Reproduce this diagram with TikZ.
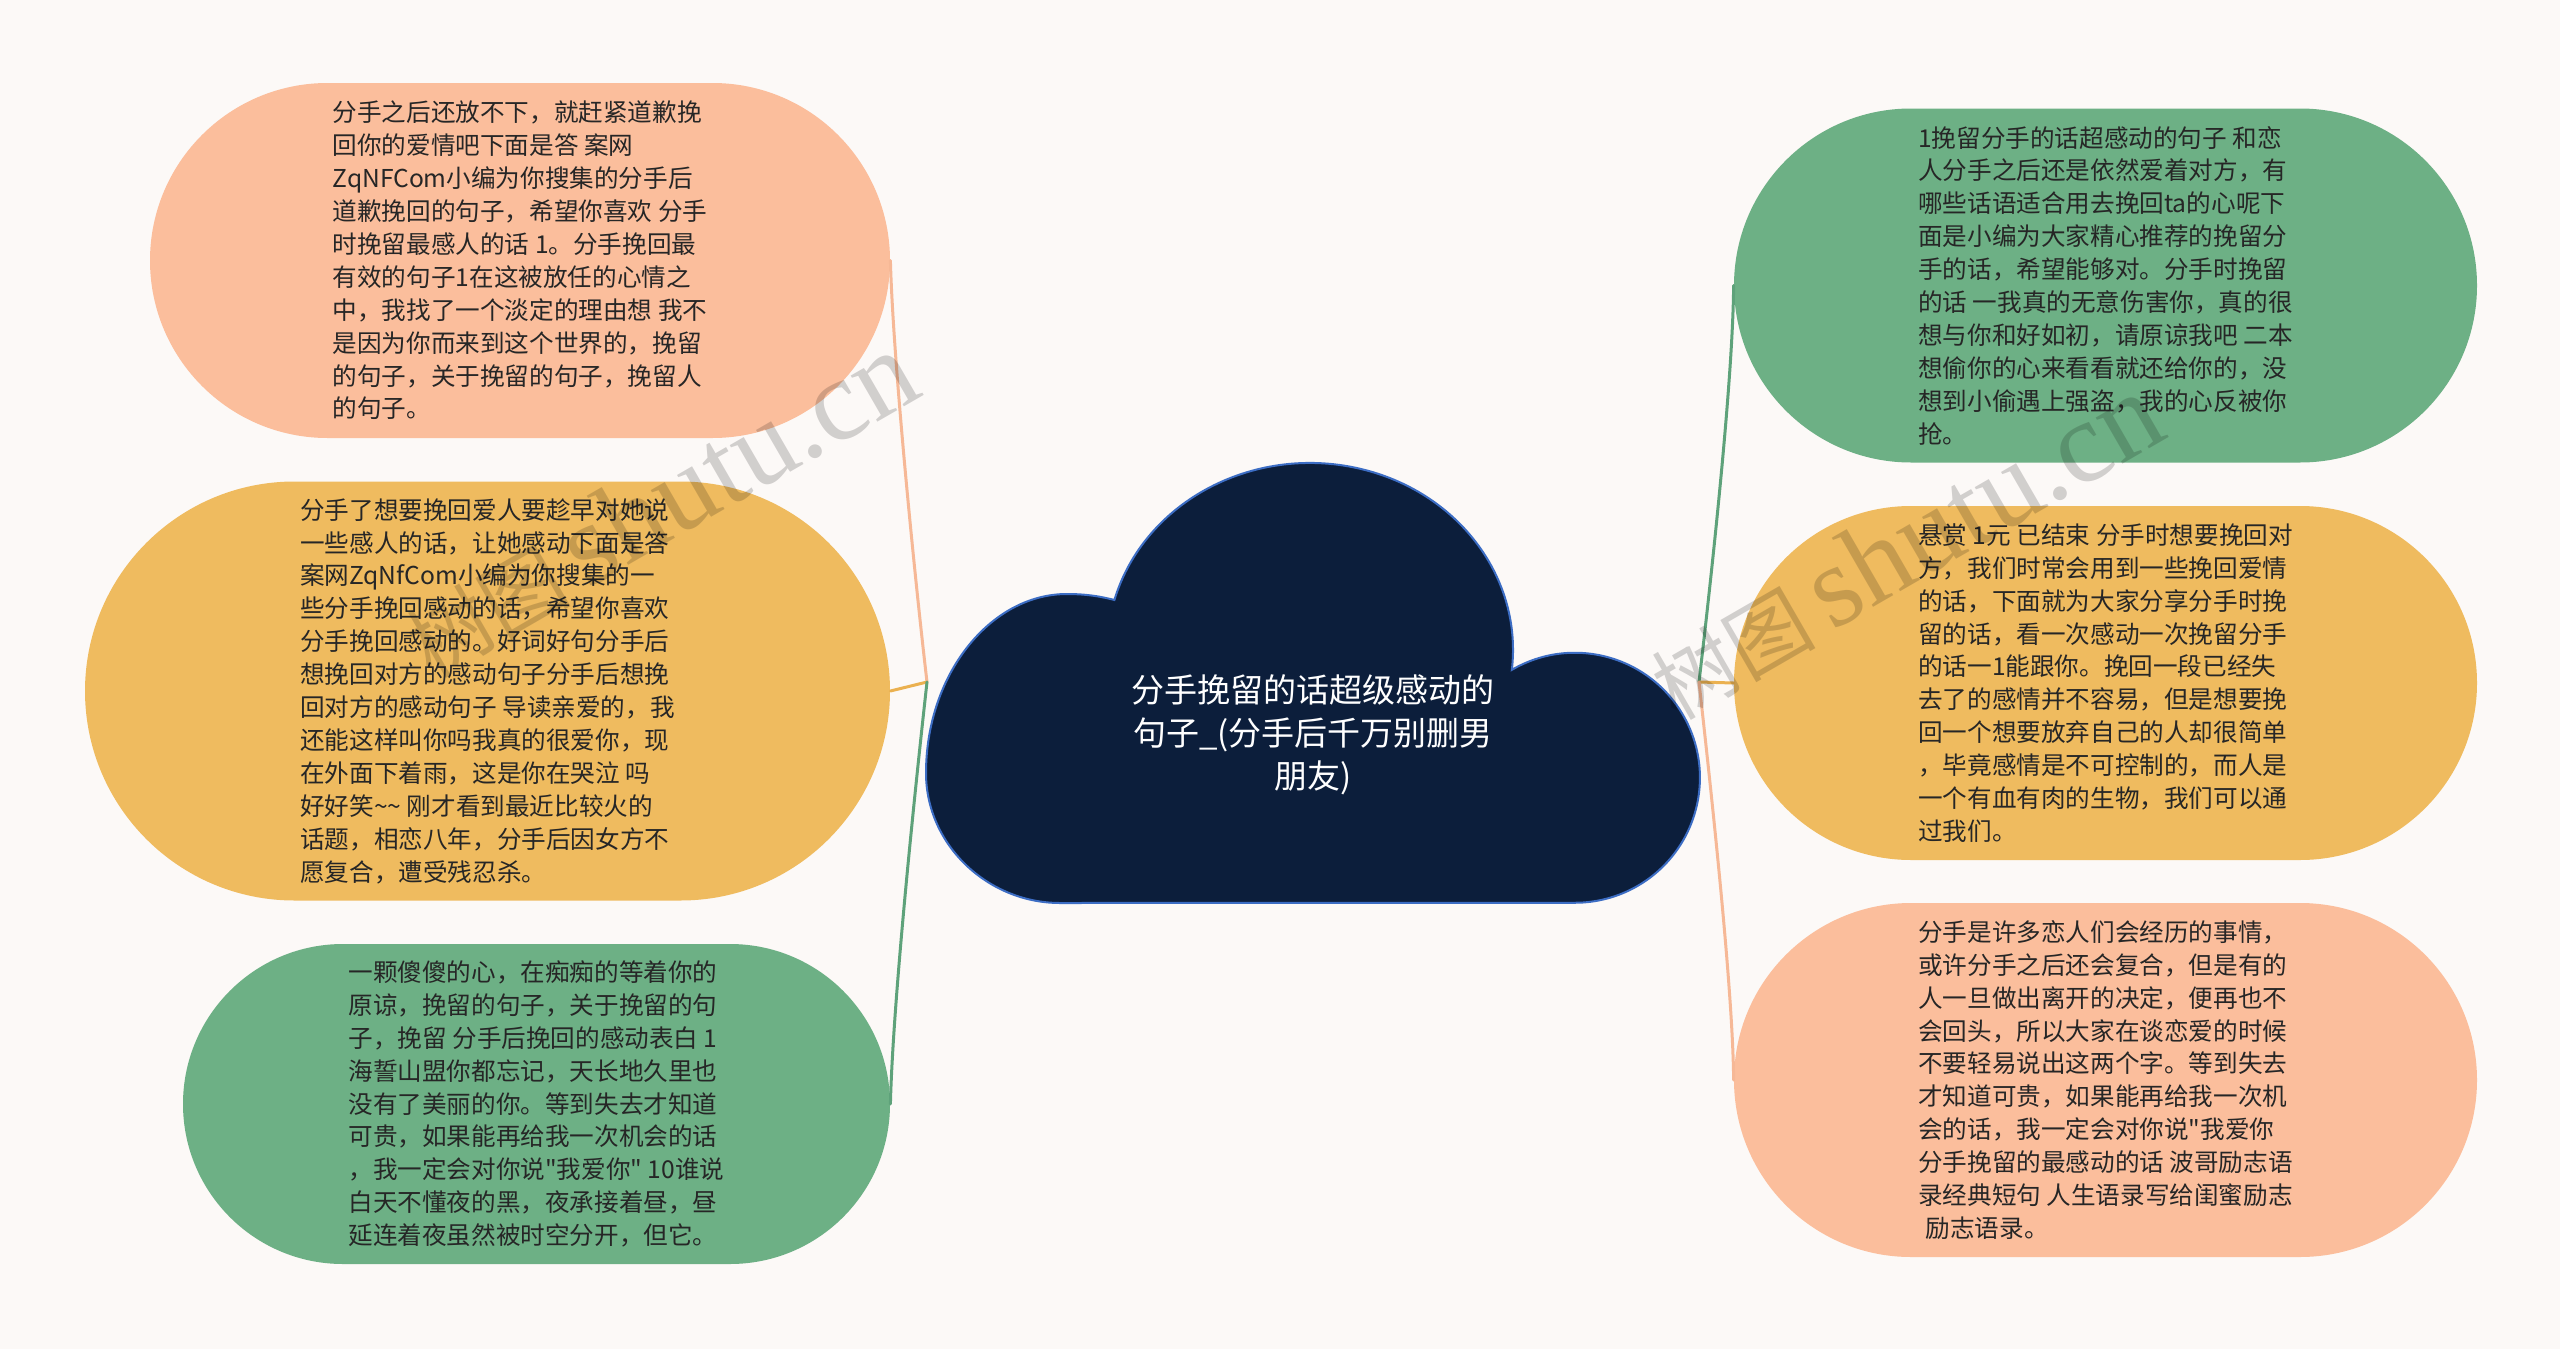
\documentclass[tikz,border=0pt]{standalone}
\usepackage{fontspec}
\setmainfont{Noto Sans CJK SC}
\newfontfamily\cjkf{Noto Sans CJK SC}
\newfontfamily\wmlatin{Liberation Serif}
\usetikzlibrary{shapes.misc}
\definecolor{bgc}{HTML}{FCF9F7}
\definecolor{salmon}{HTML}{FBBE9C}
\definecolor{goldy}{HTML}{EFBB5F}
\definecolor{greeny}{HTML}{6DB085}
\definecolor{cloudfill}{HTML}{0C1E3B}
\definecolor{cloudline}{HTML}{3C6DC4}
\definecolor{lsalmon}{HTML}{F6B896}
\definecolor{lgold}{HTML}{EBB150}
\definecolor{lgreen}{HTML}{5EA27A}
\definecolor{txt}{HTML}{262626}
\begin{document}
\begin{tikzpicture}[x=0.5pt,y=-0.5pt,
  topic/.style={rounded rectangle, inner sep=0pt, align=left, text=txt,
    font=\cjkf\fontsize{12.3}{16.45}\selectfont},
  conn/.style={line width=1.5pt, line cap=round},
  wm/.style={text=black, text opacity=0.17, rotate=30, inner sep=0pt}
]
\fill[bgc] (0,0) rectangle (2560,1349);
\useasboundingbox (0,0) rectangle (2560,1349);

% cloud
\filldraw[fill=cloudfill, draw=cloudline, line width=1pt]
  (1114.4,600) arc[start angle=195.5, end angle=366.1, x radius=203, y radius=187]
  arc[start angle=239.7, end angle=450, radius=125]
  -- (1060,903) .. controls (988,903) and (926,845) .. (926,773)
  .. controls (926,675) and (990,594) .. (1067,594)
  .. controls (1088,594) and (1103,597) .. (1114.4,600) -- cycle;
\node[text=white, align=center, font=\cjkf\fontsize{16.5}{21.5}\selectfont] (root) at (1313,735)
  {分手挽留的话超级感动的\\句子\_(分手后千万别删男\\朋友)};

% left topics
\node[topic, fill=salmon, minimum width=370pt, minimum height=177.5pt] (n1) at (520,260.5)
{分手之后还放不下，就赶紧道歉挽\\
回你的爱情吧下面是答 案网\\
ZqNFCom小编为你搜集的分手后\\
道歉挽回的句子，希望你喜欢 分手\\
时挽留最感人的话 1。分手挽回最\\
有效的句子1在这被放任的心情之\\
中，我找了一个淡定的理由想 我不\\
是因为你而来到这个世界的，挽留\\
的句子，关于挽留的句子，挽留人\\
的句子。};

\node[topic, fill=goldy, minimum width=402.5pt, minimum height=209.5pt] (n2) at (487.5,691)
{分手了想要挽回爱人要趁早对她说\\
一些感人的话，让她感动下面是答\\
案网ZqNfCom小编为你搜集的一\\
些分手挽回感动的话，希望你喜欢\\
分手挽回感动的。好词好句分手后\\
想挽回对方的感动句子分手后想挽\\
回对方的感动句子 导读亲爱的，我\\
还能这样叫你吗我真的很爱你，现\\
在外面下着雨，这是你在哭泣 吗\\
好好笑\textasciitilde\textasciitilde{} 刚才看到最近比较火的\\
话题，相恋八年，分手后因女方不\\
愿复合，遭受残忍杀。};

\node[topic, fill=greeny, minimum width=353.5pt, minimum height=160pt] (n3) at (536.5,1104)
{一颗傻傻的心，在痴痴的等着你的\\
原谅，挽留的句子，关于挽留的句\\
子，挽留 分手后挽回的感动表白 1\\
海誓山盟你都忘记，天长地久里也\\
没有了美丽的你。等到失去才知道\\
可贵，如果能再给我一次机会的话\\
，我一定会对你说"我爱你" 10谁说\\
白天不懂夜的黑，夜承接着昼，昼\\
延连着夜虽然被时空分开，但它。};

% right topics
\node[topic, fill=greeny, minimum width=371.5pt, minimum height=177pt] (n4) at (2105.5,285.5)
{1挽留分手的话超感动的句子 和恋\\
人分手之后还是依然爱着对方，有\\
哪些话语适合用去挽回ta的心呢下\\
面是小编为大家精心推荐的挽留分\\
手的话，希望能够对。分手时挽留\\
的话 一我真的无意伤害你，真的很\\
想与你和好如初，请原谅我吧 二本\\
想偷你的心来看看就还给你的，没\\
想到小偷遇上强盗，我的心反被你\\
抢。};

\node[topic, fill=goldy, minimum width=371.5pt, minimum height=177pt] (n5) at (2105.5,683)
{悬赏 1元 已结束 分手时想要挽回对\\
方，我们时常会用到一些挽回爱情\\
的话，下面就为大家分享分手时挽\\
留的话，看一次感动一次挽留分手\\
的话一1能跟你。挽回一段已经失\\
去了的感情并不容易，但是想要挽\\
回一个想要放弃自己的人却很简单\\
，毕竟感情是不可控制的，而人是\\
一个有血有肉的生物，我们可以通\\
过我们。};

\node[topic, fill=salmon, minimum width=371.5pt, minimum height=177pt] (n6) at (2105.5,1080)
{分手是许多恋人们会经历的事情，\\
或许分手之后还会复合，但是有的\\
人一旦做出离开的决定，便再也不\\
会回头，所以大家在谈恋爱的时候\\
不要轻易说出这两个字。等到失去\\
才知道可贵，如果能再给我一次机\\
会的话，我一定会对你说"我爱你\\
分手挽留的最感动的话 波哥励志语\\
录经典短句 人生语录写给闺蜜励志\\
\hspace*{0.3em}励志语录。};

% connectors
\coordinate (jl) at (927,682);
\coordinate (jr) at (1699,682);
\draw[conn, lsalmon] (jl) .. controls (915,580) and (893,360) .. (n1.east);
\draw[conn, lgold] (jl) -- (n2.east);
\draw[conn, lgreen] (jl) .. controls (915,790) and (893,1000) .. (n3.east);
\draw[conn, lgreen] (jr) .. controls (1711,580) and (1733,380) .. (n4.west);
\draw[conn, lgold] (jr) -- (n5.west);
\draw[conn, lsalmon] (jr) .. controls (1711,790) and (1733,990) .. (n6.west);

% watermarks
\node[wm] (wm1) at (660,505) {{\cjkf\fontsize{41}{41}\selectfont 树图}\hspace{8pt}{\wmlatin\fontsize{58}{58}\selectfont shutu.cn}};
\node[wm] (wm2) at (1905,547) {{\cjkf\fontsize{41}{41}\selectfont 树图}\hspace{8pt}{\wmlatin\fontsize{58}{58}\selectfont shutu.cn}};
\end{tikzpicture}
\end{document}
